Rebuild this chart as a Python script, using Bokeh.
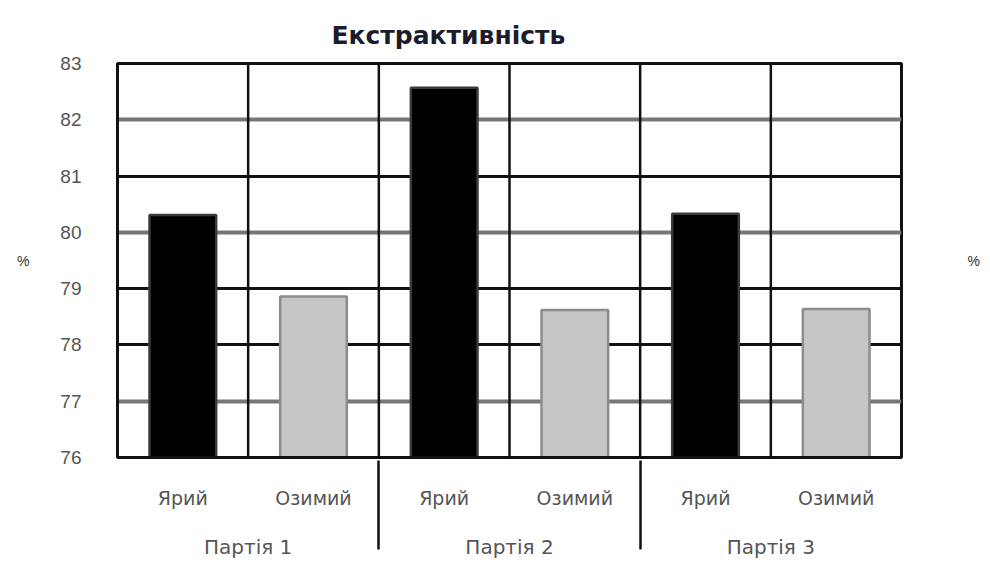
from bokeh.plotting import figure
from bokeh.models import (ColumnDataSource, FactorRange, Range1d, FixedTicker, Grid,
                          Span, LinearAxis)
from bokeh.embed import file_html
from bokeh.resources import INLINE

# ---- data ----
title_text = "Екстрактивність"
groups = ["Партія 1", "Партія 2", "Партія 3"]
kinds = ["Ярий", "Озимий"]
yariy = [80.31, 82.57, 80.33]
ozymyi = [78.86, 78.62, 78.64]
y_min = 76
y_max = 83
y_ticks = [76, 77, 78, 79, 80, 81, 82, 83]
y_unit = "%"

factors = [(g, k) for g in groups for k in kinds]
tops = []
for a, b in zip(yariy, ozymyi):
    tops += [a, b]
fills = ["#000000", "#c6c6c6"] * len(groups)
lines = ["#3a3a3a", "#8c8c8c"] * len(groups)

src = ColumnDataSource(dict(x=factors, top=tops, fill=fills, line=lines))

p = figure(width=990, height=569, output_backend="svg", toolbar_location=None,
           x_range=FactorRange(*factors, factor_padding=0, group_padding=0, range_padding=0),
           y_range=Range1d(y_min, y_max),
           min_border_left=117, min_border_right=89, min_border_top=63, min_border_bottom=112,
           title=title_text)

p.background_fill_color = "white"
p.border_fill_color = "white"
p.outline_line_color = "#111111"
p.outline_line_width = 3

p.title.align = "left"
p.title.offset = 214
p.title.standoff = 27
p.title.text_font = "DejaVu Sans"
p.title.text_font_style = "bold"
p.title.text_font_size = "25px"
p.title.text_color = "#1c1c2c"

p.vbar(x="x", top="top", bottom=y_min, width=0.51, source=src,
       fill_color="fill", line_color="line", line_width=2.5)

# horizontal grid
p.ygrid.ticker = FixedTicker(ticks=[t for t in y_ticks if t in (76, 78, 79, 81)])
p.ygrid.grid_line_color = "#111111"
p.ygrid.grid_line_width = 3
g2 = Grid(dimension=1, ticker=FixedTicker(ticks=[t for t in y_ticks if t in (77, 80, 82, 83)]),
          grid_line_color="#777777", grid_line_width=4)
p.add_layout(g2)
p.xgrid.grid_line_color = None

# vertical category boundaries inside the frame
for i in range(1, len(factors)):
    p.add_layout(Span(location=i, dimension="height", line_color="#111111", line_width=2.5))

# y axis
p.yaxis.ticker = FixedTicker(ticks=y_ticks)
p.yaxis.axis_label = y_unit
p.yaxis.axis_label_orientation = "horizontal"
p.yaxis.axis_label_text_font_style = "normal"
p.yaxis.axis_label_text_font_size = "14px"
p.yaxis.axis_label_text_color = "#333333"
p.yaxis.axis_label_standoff = 28
p.yaxis.major_label_text_font = "Liberation Sans"
p.yaxis.major_label_text_font_size = "19px"
p.yaxis.major_label_text_color = "#555555"
p.yaxis.major_label_standoff = 30
p.yaxis.major_tick_line_color = None
p.yaxis.minor_tick_line_color = None
p.yaxis.axis_line_color = "#111111"
p.yaxis.axis_line_width = 3

# right-hand unit label
ra = LinearAxis(ticker=FixedTicker(ticks=[]), axis_label=y_unit,
                axis_label_orientation="horizontal", axis_label_standoff=66,
                axis_label_text_font_style="normal", axis_label_text_font_size="14px",
                axis_label_text_color="#333333", axis_line_color=None,
                major_tick_line_color=None, minor_tick_line_color=None,
                major_label_text_font_size="0px")
p.add_layout(ra, "right")

# x axis
xa = p.xaxis[0]
xa.major_tick_line_color = None
xa.axis_line_color = "#111111"
xa.axis_line_width = 3
xa.major_label_text_font = "DejaVu Sans"
xa.major_label_text_font_size = "19px"
xa.major_label_text_color = "#555555"
xa.major_label_standoff = 23
xa.group_text_font = "DejaVu Sans"
xa.group_text_font_size = "20px"
xa.group_text_color = "#555555"
xa.group_text_font_style = "normal"
xa.group_text_line_height = 1.6
xa.separator_line_color = "#111111"
xa.separator_line_width = 2.5

open("out.html", "w").write(file_html(p, INLINE))
